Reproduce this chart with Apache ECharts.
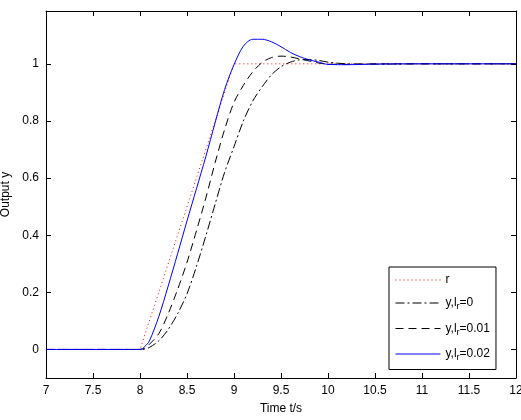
<!DOCTYPE html>
<html>
<head>
<meta charset="utf-8">
<script src="https://cdn.jsdelivr.net/npm/echarts@6/dist/echarts.min.js"></script>
<style>
  html, body { margin: 0; padding: 0; background: #fff; }
  #main { width: 521px; height: 420px; }
</style>
</head>
<body>
<div id="main"></div>
<script>
// time samples (s)
const time = [7, 8, 8.05, 8.1, 8.2, 8.3, 8.4, 8.5, 8.6, 8.7, 8.8, 8.9, 9.0, 9.1, 9.2, 9.3, 9.4, 9.5, 9.6, 9.7, 9.8, 9.9, 10.0, 10.2, 10.5, 11, 12]
// reference r
const refTime = [7, 8, 9, 12]
const refVal = [0, 0, 1, 1]
// outputs for lr = 0, 0.01, 0.02
const yLr0 = [0, 0, 0.001, 0.007, 0.03, 0.07, 0.125, 0.195, 0.29, 0.397, 0.51, 0.62, 0.71, 0.80, 0.87, 0.92, 0.962, 0.99, 1.006, 1.014, 1.015, 1.012, 1.006, 1.0, 0.999, 1, 1]
const yLr001 = [0, 0, 0.004, 0.018, 0.055, 0.125, 0.21, 0.305, 0.415, 0.53, 0.655, 0.77, 0.865, 0.925, 0.972, 1.005, 1.022, 1.027, 1.024, 1.017, 1.01, 1.003, 0.999, 0.998, 1, 1, 1]
const yLr002 = [0, 0, 0.01, 0.03, 0.115, 0.222, 0.335, 0.45, 0.562, 0.675, 0.795, 0.91, 0.997, 1.062, 1.086, 1.086, 1.077, 1.06, 1.04, 1.025, 1.014, 1.006, 0.998, 0.997, 0.999, 1, 1]
// axis ticks
const xTicks = { min: 7, max: 12, step: 0.5 }
const yTickVals = [0, 0.2, 0.4, 0.6, 0.8, 1]

const names = ['r', 'y,lr=0', 'y,lr=0.01', 'y,lr=0.02']
const legendText = {
  'r': '{n|r}',
  'y,lr=0': '{n|y,l}{s|r}{n|=0}',
  'y,lr=0.01': '{n|y,l}{s|r}{n|=0.01}',
  'y,lr=0.02': '{n|y,l}{s|r}{n|=0.02}'
}

function pairs (t, v) {
  return t.map((x, i) => [x, v[i]])
}

const font = 'Liberation Sans, Arial, sans-serif'
const black = '#000'

let mycharts = echarts.init(document.getElementById('main'))
mycharts.setOption({
  animation: false,
  backgroundColor: '#fff',
  grid: { left: 46, right: 5, top: 11, bottom: 42, outerBoundsMode: 'none', containLabel: false },
  xAxis: [
    {
      type: 'value',
      min: xTicks.min,
      max: xTicks.max,
      interval: xTicks.step,
      name: 'Time t/s',
      nameLocation: 'middle',
      nameGap: 25,
      nameTextStyle: { color: black, fontFamily: font, fontSize: 12 },
      axisLine: { show: true, onZero: false, lineStyle: { color: black, width: 1 } },
      axisTick: { show: true, inside: true, length: 5, lineStyle: { color: black } },
      axisLabel: { color: black, fontFamily: font, fontSize: 12, margin: 7 },
      splitLine: { show: false }
    },
    {
      type: 'value',
      position: 'top',
      min: xTicks.min,
      max: xTicks.max,
      interval: xTicks.step,
      axisLine: { show: true, onZero: false, lineStyle: { color: black, width: 1 } },
      axisTick: { show: true, inside: true, length: 5, lineStyle: { color: black } },
      axisLabel: { show: false },
      splitLine: { show: false }
    }
  ],
  yAxis: [
    {
      type: 'value',
      min: -0.1,
      max: 1.185,
      name: 'Output y',
      nameLocation: 'middle',
      nameGap: 33,
      nameRotate: 90,
      nameTextStyle: { color: black, fontFamily: font, fontSize: 12 },
      axisLine: { show: true, onZero: false, lineStyle: { color: black, width: 1 } },
      axisTick: { show: true, inside: true, length: 5, customValues: yTickVals, lineStyle: { color: black } },
      axisLabel: { color: black, fontFamily: font, fontSize: 12, margin: 7, customValues: yTickVals },
      splitLine: { show: false }
    },
    {
      type: 'value',
      position: 'right',
      min: -0.1,
      max: 1.185,
      axisLine: { show: true, onZero: false, lineStyle: { color: black, width: 1 } },
      axisTick: { show: true, inside: true, length: 5, customValues: yTickVals, lineStyle: { color: black } },
      axisLabel: { show: false, customValues: yTickVals },
      splitLine: { show: false }
    }
  ],
  legend: {
    orient: 'vertical',
    left: 389,
    top: 267,
    width: 118,
    padding: [7, 6, 7, 6],
    itemGap: 11,
    itemWidth: 45,
    itemHeight: 14,
    backgroundColor: '#fff',
    borderColor: black,
    borderWidth: 1,
    borderRadius: 0,
    itemStyle: { opacity: 0 },
    lineStyle: { width: 1 },
    data: names,
    formatter: name => legendText[name],
    textStyle: {
      rich: {
        n: { color: black, fontFamily: font, fontSize: 12 },
        s: { color: black, fontFamily: font, fontSize: 9, verticalAlign: 'bottom', padding: [8, 0, 0, 0] }
      }
    }
  },
  series: [
    {
      name: 'r',
      type: 'line',
      data: pairs(refTime, refVal),
      symbol: 'none',
      lineStyle: { color: '#ff0000', width: 1, type: [1, 3] },
      itemStyle: { color: '#ff0000' },
      z: 2
    },
    {
      name: 'y,lr=0',
      type: 'line',
      data: pairs(time, yLr0),
      symbol: 'none',
      smooth: 0.3,
      lineStyle: { color: black, width: 1, type: [9, 3, 2, 3] },
      itemStyle: { color: black },
      z: 3
    },
    {
      name: 'y,lr=0.01',
      type: 'line',
      data: pairs(time, yLr001),
      symbol: 'none',
      smooth: 0.3,
      lineStyle: { color: black, width: 1, type: [8, 5] },
      itemStyle: { color: black },
      z: 3
    },
    {
      name: 'y,lr=0.02',
      type: 'line',
      data: pairs(time, yLr002),
      symbol: 'none',
      smooth: 0.3,
      lineStyle: { color: '#0000ff', width: 1 },
      itemStyle: { color: '#0000ff' },
      z: 4
    }
  ]
})
</script>
</body>
</html>
